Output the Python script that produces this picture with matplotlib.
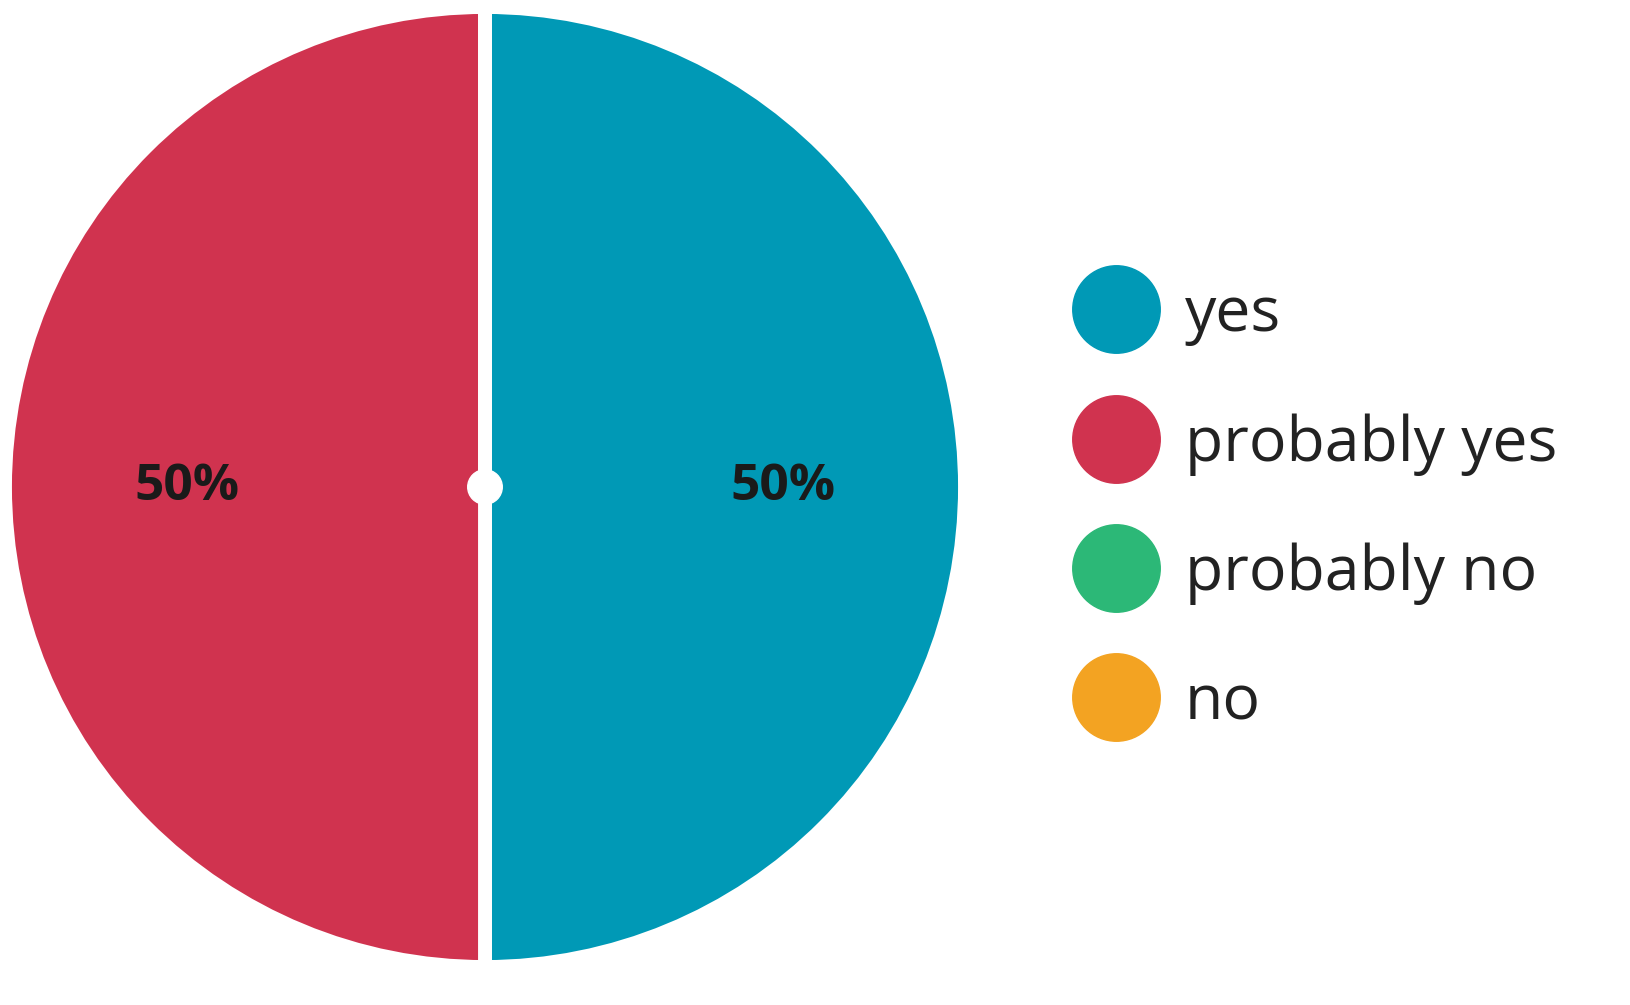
import matplotlib.pyplot as plt
from matplotlib.lines import Line2D
from matplotlib.patches import Circle

# data
labels = ['yes', 'probably yes', 'probably no', 'no']
shares = [50, 50, 0, 0]
colors = ['#0099B6', '#D0334F', '#2CB877', '#F3A322']

fig = plt.figure(figsize=(16.3, 10.05), dpi=100)

# pie axes: centre ~(485, 487) px, radius ~480 px
ax = fig.add_axes([5 / 1630, 38 / 1005, 960 / 1630, 960 / 1005])
wedges, texts, autotexts = ax.pie(
    shares, colors=colors, startangle=90, counterclock=False,
    autopct=lambda p: f'{p:.0f}%' if p > 0 else '',
    pctdistance=0.62,
    wedgeprops=dict(edgecolor='white', linewidth=10),
    textprops=dict(fontsize=37, fontweight='bold', color='#1a1a1a', family='Open Sans'))
ax.add_patch(Circle((0, 0), 0.036, color='white', zorder=5))
ax.set_xlim(-1, 1)
ax.set_ylim(-1, 1)
ax.set_aspect('equal')

handles = [Line2D([], [], marker='o', linestyle='', markersize=63,
                  markerfacecolor=c, markeredgecolor=c) for c in colors]
fig.legend(handles, labels, loc='center left', bbox_to_anchor=(1060 / 1630, 1 - 509 / 1005),
           frameon=False, prop=dict(family='Open Sans', size=45), labelcolor='#222222',
           handletextpad=0.62, labelspacing=1.07, handlelength=0.98, borderaxespad=0)

plt.savefig('out.png', dpi=100)
